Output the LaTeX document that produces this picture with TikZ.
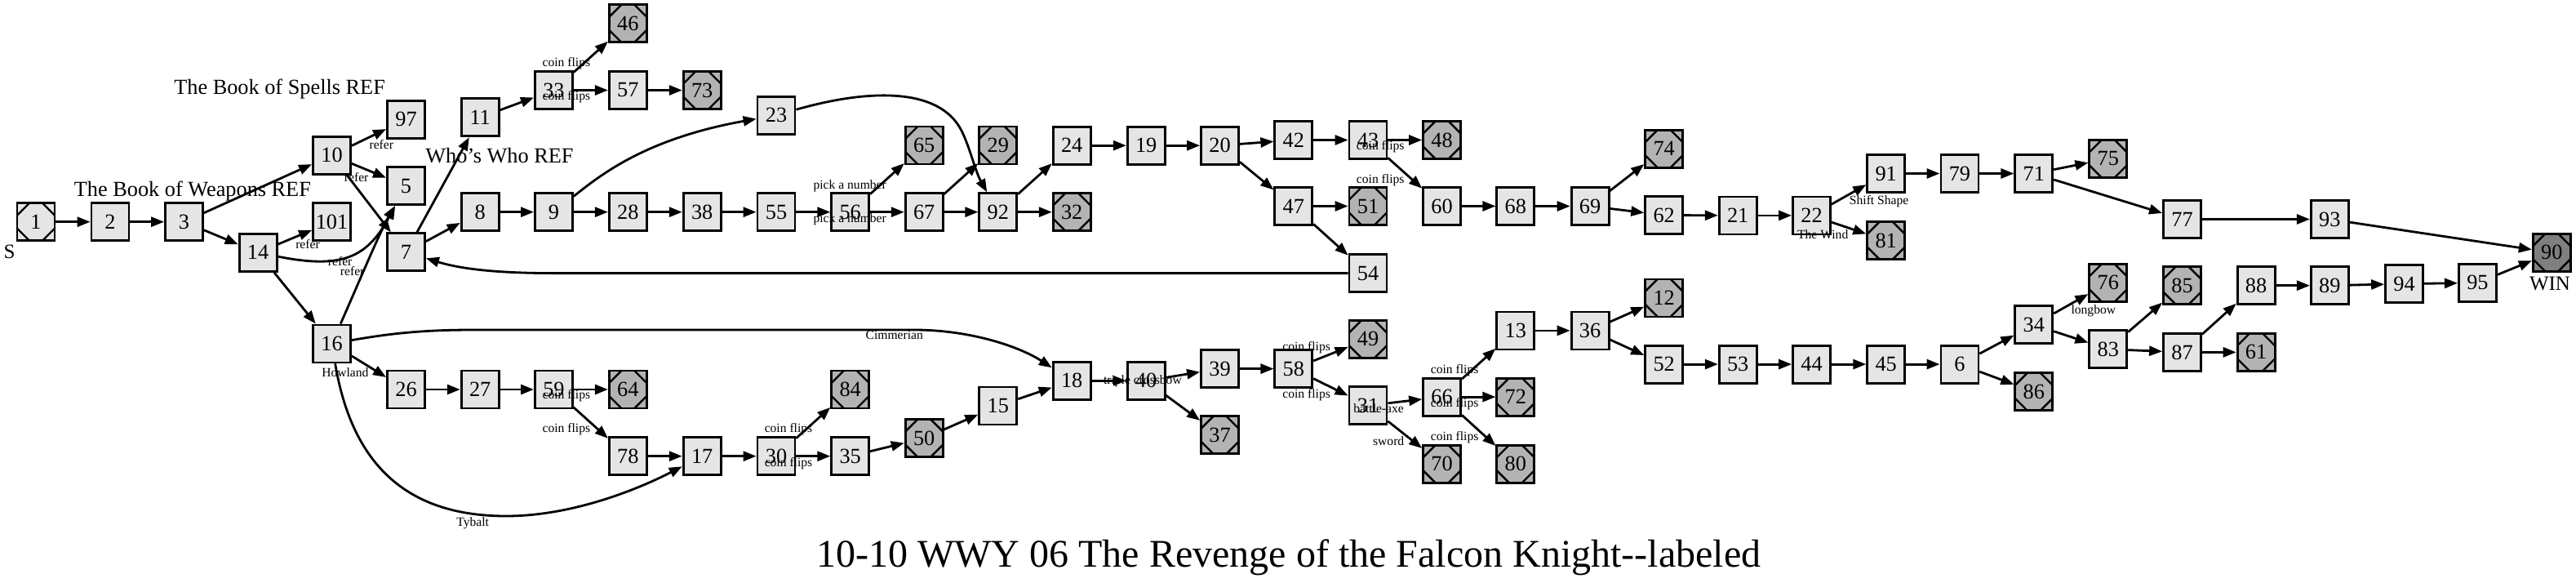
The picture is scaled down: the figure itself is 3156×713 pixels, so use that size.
\documentclass[tikz,border=0pt]{standalone}
\usepackage{fontspec}
\setmainfont{Liberation Serif}
\usetikzlibrary{arrows.meta}
\definecolor{nfill}{RGB}{229,229,229}
\definecolor{tfill}{RGB}{179,179,179}
\definecolor{wfill}{RGB}{127,127,127}
\begin{document}
\begin{tikzpicture}[x=1pt,y=-1pt,
 box/.style={draw=black,line width=2.8pt,fill=nfill,minimum width=46pt,minimum height=46pt,inner sep=0pt,font=\fontsize{26.3}{28}\selectfont},
 msq/.style={box,path picture={
   \draw[line width=2.4pt,black]
   ([yshift=-15pt]path picture bounding box.north west) -- ([xshift=15pt]path picture bounding box.north west)
   ([xshift=-15pt]path picture bounding box.north east) -- ([yshift=-15pt]path picture bounding box.north east)
   ([yshift=15pt]path picture bounding box.south west) -- ([xshift=15pt]path picture bounding box.south west)
   ([xshift=-15pt]path picture bounding box.south east) -- ([yshift=15pt]path picture bounding box.south east);}},
 term/.style={msq,fill=tfill},
 winbox/.style={msq,fill=wfill},
 conn/.style={line width=2.8pt,-{Triangle[length=16pt,width=12pt]}},
 elbl/.style={inner sep=0pt,font=\fontsize{15.6}{17}\selectfont},
 blbl/.style={inner sep=0pt,font=\fontsize{26.3}{28}\selectfont},
 xlbl/.style={inner sep=0pt,font=\fontsize{25}{27}\selectfont},
]
\useasboundingbox (0,0) rectangle (3156,713);
\fill[white] (0,0) rectangle (3156,713);

% nodes
\node[msq]  (n1)   at (44,271.7) {1};
\node[box]  (n2)   at (135,271.7) {2};
\node[box]  (n3)   at (225.5,271.7) {3};
\node[box]  (n10)  at (406.5,190.2) {10};
\node[box]  (n97)  at (497.5,146.3) {97};
\node[box]  (n5)   at (497.5,227.8) {5};
\node[box]  (n101) at (406.5,271.7) {101};
\node[box]  (n14)  at (316.1,309.3) {14};
\node[box]  (n7)   at (497.5,308.8) {7};
\node[box]  (n16)  at (406.5,420.9) {16};
\node[box]  (n26)  at (497.5,477) {26};
\node[box]  (n11)  at (588.2,143.8) {11};
\node[box]  (n8)   at (588.2,259.7) {8};
\node[box]  (n27)  at (588.2,477) {27};
\node[box]  (n33)  at (678.4,110.5) {33};
\node[box]  (n9)   at (678.4,259.7) {9};
\node[box]  (n59)  at (678.4,477) {59};
\node[term] (n46)  at (769.3,28.8) {46};
\node[box]  (n57)  at (769.3,110.5) {57};
\node[box]  (n28)  at (769.3,259.7) {28};
\node[term] (n64)  at (769.3,477) {64};
\node[box]  (n78)  at (769.3,558.7) {78};
\node[term] (n73)  at (860.2,110.5) {73};
\node[box]  (n38)  at (860.2,259.7) {38};
\node[box]  (n17)  at (860.2,558.7) {17};
\node[box]  (n23)  at (951,141.2) {23};
\node[box]  (n55)  at (951,259.7) {55};
\node[box]  (n30)  at (951,558.7) {30};
\node[box]  (n56)  at (1041.7,259.7) {56};
\node[term] (n84)  at (1041.7,477) {84};
\node[box]  (n35)  at (1041.7,558.7) {35};
\node[term] (n65)  at (1132.2,178) {65};
\node[box]  (n67)  at (1132.2,259.7) {67};
\node[term] (n50)  at (1132.2,536.6) {50};
\node[term] (n29)  at (1222.8,178) {29};
\node[box]  (n92)  at (1222.8,259.7) {92};
\node[box]  (n15)  at (1222.8,497) {15};
\node[box]  (n24)  at (1313.2,178.2) {24};
\node[term] (n32)  at (1313.2,259.7) {32};
\node[box]  (n18)  at (1313.2,466.3) {18};
\node[box]  (n19)  at (1404.2,178.2) {19};
\node[box]  (n40)  at (1404.2,466.3) {40};
\node[box]  (n20)  at (1494.5,178.2) {20};
\node[box]  (n39)  at (1494.5,451.6) {39};
\node[term] (n37)  at (1494.5,532.8) {37};
\node[box]  (n42)  at (1584.8,171.5) {42};
\node[box]  (n47)  at (1584.8,252.5) {47};
\node[box]  (n58)  at (1584.8,451.6) {58};
\node[box]  (n43)  at (1676,171.5) {43};
\node[term] (n51)  at (1676,252.5) {51};
\node[box]  (n54)  at (1676,334.6) {54};
\node[term] (n49)  at (1676,415.4) {49};
\node[box]  (n31)  at (1676,496.6) {31};
\node[term] (n48)  at (1766.6,171.5) {48};
\node[box]  (n60)  at (1766.6,252.5) {60};
\node[box]  (n66)  at (1766.6,486.1) {66};
\node[term] (n70)  at (1766.6,568.2) {70};
\node[box]  (n68)  at (1856.8,252.5) {68};
\node[box]  (n13)  at (1856.8,404.9) {13};
\node[term] (n72)  at (1856.8,486.1) {72};
\node[term] (n80)  at (1856.8,568.2) {80};
\node[box]  (n69)  at (1948.1,252.5) {69};
\node[box]  (n36)  at (1948.1,404.9) {36};
\node[term] (n74)  at (2038.7,182.2) {74};
\node[box]  (n62)  at (2038.7,263.5) {62};
\node[term] (n12)  at (2038.7,364.9) {12};
\node[box]  (n52)  at (2038.7,446.1) {52};
\node[box]  (n21)  at (2129.2,263.9) {21};
\node[box]  (n53)  at (2129.2,446.1) {53};
\node[box]  (n22)  at (2219.5,263.9) {22};
\node[box]  (n44)  at (2219.5,446.1) {44};
\node[box]  (n91)  at (2310.7,212.5) {91};
\node[term] (n81)  at (2310.7,294.6) {81};
\node[box]  (n45)  at (2310.7,446.1) {45};
\node[box]  (n79)  at (2400.9,212.5) {79};
\node[box]  (n6)   at (2400.9,446.1) {6};
\node[box]  (n71)  at (2491.8,212.5) {71};
\node[box]  (n34)  at (2491.8,397.7) {34};
\node[term] (n86)  at (2491.8,479.8) {86};
\node[term] (n75)  at (2582.8,194.4) {75};
\node[term] (n76)  at (2582.8,346.4) {76};
\node[box]  (n83)  at (2582.8,427.6) {83};
\node[box]  (n77)  at (2673.5,268.5) {77};
\node[term] (n85)  at (2673.5,349.7) {85};
\node[box]  (n87)  at (2673.5,431.4) {87};
\node[box]  (n88)  at (2764.1,349.7) {88};
\node[term] (n61)  at (2764.1,431.4) {61};
\node[box]  (n93)  at (2854.3,268.5) {93};
\node[box]  (n89)  at (2854.3,349.7) {89};
\node[box]  (n94)  at (2945.5,347.6) {94};
\node[box]  (n95)  at (3035.4,346.4) {95};
\node[winbox] (n90) at (3126.3,309.3) {90};

% straight connectors
\foreach \a/\b in {1/2,2/3,3/10,3/14,10/97,10/5,10/7,14/101,14/16,16/26,7/11,7/8,11/33,33/46,33/57,57/73,
  8/9,9/28,28/38,38/55,55/56,56/65,56/67,67/29,67/92,92/24,92/32,24/19,19/20,20/42,20/47,42/43,43/48,43/60,
  47/51,47/54,60/68,68/69,69/74,69/62,62/21,21/22,22/91,22/81,91/79,79/71,71/75,71/77,77/93,93/90,
  26/27,27/59,59/64,59/78,78/17,17/30,30/84,30/35,35/50,50/15,15/18,18/40,40/39,40/37,39/58,58/49,58/31,
  31/66,31/70,66/13,66/72,66/80,13/36,36/12,36/52,52/53,53/44,44/45,45/6,6/34,6/86,34/76,34/83,83/85,83/87,
  87/88,87/61,88/89,89/94,94/95,95/90}
  \draw[conn] (n\a) -- (n\b);

% curved connectors
\draw[conn] (n14) .. controls (420,330) and (450,315) .. (n5);
\draw[conn] (n16) .. controls (440,345) and (465,285) .. (n5);
\draw[conn] (n16) .. controls (480,408) and (520,404) .. (580,404) -- (1120,404) .. controls (1190,404) and (1250,425) .. (n18);
\draw[conn] (n16) .. controls (430,560) and (490,632) .. (620,632) .. controls (700,632) and (780,600) .. (n17);
\draw[conn] (n9) .. controls (735,215) and (790,170) .. (n23);
\draw[conn] (n23) .. controls (1060,110) and (1150,105) .. (1178,160) .. controls (1188,180) and (1195,210) .. (n92);
\draw[conn] (n54) -- (680,334.6) .. controls (600,334.6) and (560,328) .. (n7);

% big labels
\node[blbl] (tspells) at (342.6,108.6) {The Book of Spells REF};
\node[blbl] (tweap) at (235.9,233.6) {The Book of Weapons REF};
\node[blbl] (twho) at (612,191) {Who's Who REF};
\node[xlbl] (tS) at (11.7,308.5) {S};
\node[xlbl] (tWIN) at (3124,347.2) {WIN};

% edge labels
\node[elbl] (e1) at (467.3,177.3) {refer};
\node[elbl] (e2) at (436.7,217.3) {refer};
\node[elbl] (e3) at (377,299) {refer};
\node[elbl] (e4) at (416.7,320) {refer};
\node[elbl] (e5) at (431.7,332.3) {refer};
\node[elbl] (e6) at (422.9,456.6) {Howland};
\node[elbl] (e7) at (1095.8,410.4) {Cimmerian};
\node[elbl] (e8) at (579.2,640.6) {Tybalt};
\node[elbl] (e9) at (693.9,77.9) {coin flips};
\node[elbl] (e10) at (693.9,119.1) {coin flips};
\node[elbl] (e11) at (693.9,484.8) {coin flips};
\node[elbl] (e12) at (693.9,526.1) {coin flips};
\node[elbl] (e13) at (966,526.1) {coin flips};
\node[elbl] (e14) at (966,567.3) {coin flips};
\node[elbl] (e15) at (1041.2,227.7) {pick a number};
\node[elbl] (e16) at (1041.2,268.3) {pick a number};
\node[elbl] (e17) at (1399.9,466.3) {triple crossbow};
\node[elbl] (e18) at (1691.2,180.1) {coin flips};
\node[elbl] (e19) at (1691.2,221) {coin flips};
\node[elbl] (e20) at (1600.6,425.9) {coin flips};
\node[elbl] (e21) at (1600.6,483.2) {coin flips};
\node[elbl] (e22) at (1689.1,500) {battle-axe};
\node[elbl] (e23) at (1701.2,540) {sword};
\node[elbl] (e24) at (1782.1,453.7) {coin flips};
\node[elbl] (e25) at (1782.1,495) {coin flips};
\node[elbl] (e26) at (1782.1,535.4) {coin flips};
\node[elbl] (e27) at (2302.1,247) {Shift Shape};
\node[elbl] (e28) at (2233.2,287) {The Wind};
\node[elbl] (e29) at (2564.8,380.9) {longbow};

% title
\node[inner sep=0pt,font=\fontsize{48}{50}\selectfont,anchor=base] (title) at (1578.7,694) {10-10 WWY 06 The Revenge of the Falcon Knight-\kern0pt-labeled};
\end{tikzpicture}
\end{document}
